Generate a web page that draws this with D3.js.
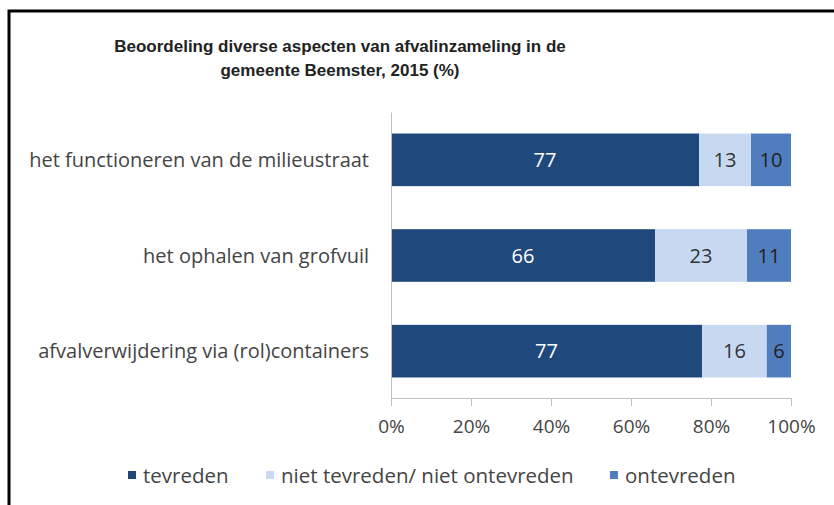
<!DOCTYPE html>
<html><head><meta charset="utf-8">
<script src="https://cdn.jsdelivr.net/npm/d3@7"></script>
<style>body{margin:0;background:#fff;}svg{display:block;}</style>
</head><body>
<svg id="chart" width="834" height="505"></svg>
<script>
const titleLines = ["Beoordeling diverse aspecten van afvalinzameling in de", "gemeente Beemster, 2015 (%)"];
const categories = ["het functioneren van de milieustraat", "het ophalen van grofvuil", "afvalverwijdering via (rol)containers"];
const seriesNames = ["tevreden", "niet tevreden/ niet ontevreden", "ontevreden"];
const tevreden = [77, 66, 77];
const neutraal = [13, 23, 16];
const ontevreden = [10, 11, 6];
const xTicks = [0, 0.2, 0.4, 0.6, 0.8, 1.0];
const colors = ["#1f497d", "#c6d9f1", "#4f7dbd"];
const labelColors = ["#ffffff", "#333333", "#222222"];

const svg = d3.select("#chart");
svg.append("path").attr("d","M9,505 V11 H834").attr("fill","none").attr("stroke","#000").attr("stroke-width",3);

const labelFont = "'Open Sans', Lato, sans-serif";
svg.append("g").selectAll("text").data(titleLines).join("text")
  .attr("x", 340).attr("y", (d,i)=>52+i*24).attr("text-anchor","middle")
  .attr("font-family","'Liberation Sans', Arial, sans-serif").attr("font-weight","bold")
  .attr("font-size",17).attr("fill","#222").text(d=>d);

const x = d3.scaleLinear().domain([0,1]).range([391, 791]);
const y = d3.scaleBand().domain(categories).range([112, 399]).paddingInner(0.45).paddingOuter(0.225);

const stackData = categories.map((c,i)=>({cat:c, s0:tevreden[i], s1:neutraal[i], s2:ontevreden[i]}));
const series = d3.stack().keys(["s0","s1","s2"]).offset(d3.stackOffsetExpand)(stackData);

const g = svg.append("g");
series.forEach((s, si) => {
  g.append("g").selectAll("rect").data(s).join("rect")
    .attr("x", d=>x(d[0])).attr("width", d=>x(d[1])-x(d[0]))
    .attr("y", d=>y(d.data.cat)).attr("height", y.bandwidth())
    .attr("fill", colors[si]);
  g.append("g").selectAll("text").data(s).join("text")
    .attr("x", d=>(x(d[0])+x(d[1]))/2).attr("y", d=>y(d.data.cat)+y.bandwidth()/2+7)
    .attr("text-anchor","middle").attr("font-family",labelFont).attr("font-size",20)
    .attr("fill", labelColors[si]).text(d=>d.data["s"+si]);
});

const xAxis = svg.append("g").attr("transform","translate(0,398)")
  .call(d3.axisBottom(x).tickValues(xTicks).tickFormat(d3.format(".0%")).tickSize(8).tickPadding(14));
xAxis.select(".domain").attr("stroke","#bfbfbf");
xAxis.selectAll(".tick line").attr("stroke","#bfbfbf");
xAxis.selectAll("text").attr("font-family",labelFont).attr("font-size",19).attr("fill","#444");

const yAxis = svg.append("g").attr("transform","translate(391,0)")
  .call(d3.axisLeft(y).tickSize(0).tickPadding(22));
yAxis.select(".domain").attr("stroke","#bfbfbf");
yAxis.selectAll("text").attr("font-family",labelFont).attr("font-size",20).attr("fill","#444").attr("dy","0.35em");

const legendX = [128, 266, 610];
const lg = svg.append("g");
seriesNames.forEach((n,i)=>{
  lg.append("rect").attr("x",legendX[i]).attr("y",471).attr("width",8).attr("height",8).attr("fill",colors[i]);
  lg.append("text").attr("x",legendX[i]+15).attr("y",483).attr("font-family",labelFont)
    .attr("font-size",20.5).attr("fill","#444").text(n);
});
</script>
</body></html>
